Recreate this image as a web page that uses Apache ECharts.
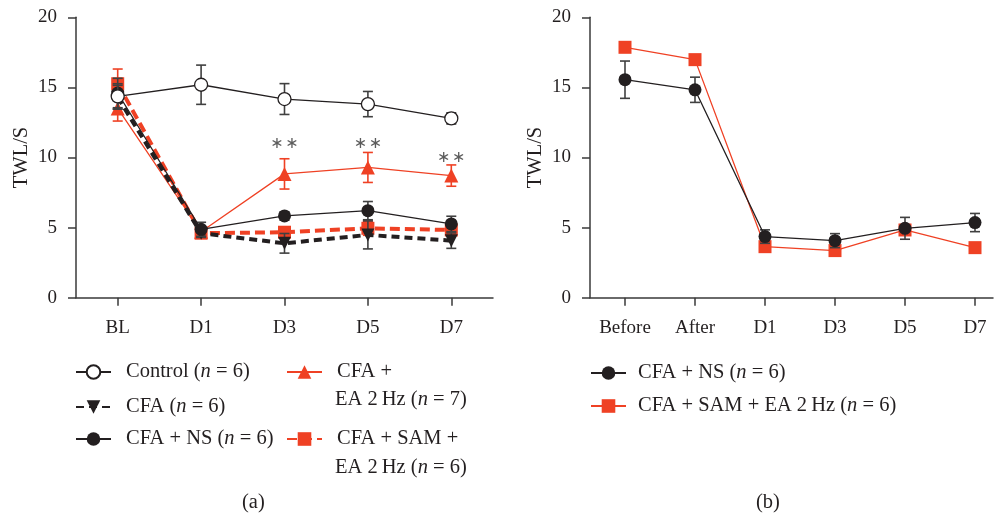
<!DOCTYPE html>
<html>
<head>
<meta charset="utf-8">
<script src="https://cdn.jsdelivr.net/npm/echarts@6/dist/echarts.min.js"></script>
<style>html,body{margin:0;padding:0;background:#fff;overflow:hidden;}#c{width:1030px;height:513px;}</style>
</head>
<body>
<div id="c"></div>
<script>
// ---- data: panel (a)
const catsA = ['BL', 'D1', 'D3', 'D5', 'D7'];
const controlMean = [14.36, 15.19, 14.17, 13.81, 12.79];
const controlSem  = [0.9, 1.4, 1.1, 0.9, 0.4];
const cfaMean     = [14.3, 4.6, 3.88, 4.48, 4.07];
const cfaSem      = [0.85, 0.3, 0.7, 1.0, 0.55];
const nsMeanA     = [14.6, 4.88, 5.83, 6.21, 5.26];
const nsSemA      = [1.05, 0.5, 0.3, 0.65, 0.55];
const eaMean      = [13.5, 4.7, 8.83, 9.29, 8.71];
const eaSem       = [0.9, 0.4, 1.08, 1.07, 0.76];
const samMeanA    = [15.26, 4.6, 4.67, 4.95, 4.83];
const samSemA     = [1.05, 0.35, 0.3, 0.5, 0.3];
const sigLabels   = ['', '', '\u2217\u200a\u2217', '\u2217\u200a\u2217', '\u2217\u200a\u2217'];
const sigY        = [null, null, 11.0, 11.0, 10.0];
// ---- data: panel (b)
const catsB    = ['Before', 'After', 'D1', 'D3', 'D5', 'D7'];
const nsMeanB  = [15.55, 14.83, 4.36, 4.07, 4.95, 5.36];
const nsSemB   = [1.33, 0.9, 0.48, 0.5, 0.78, 0.65];
const samMeanB = [17.86, 16.98, 3.64, 3.36, 4.83, 3.57];
const samSemB  = [0.3, 0.3, 0.3, 0.3, 0.3, 0.3];
const yTicks = [0, 5, 10, 15, 20];

const RED = '#ef4124', BLK = '#231f20', GREY = '#404040', AX = '#3a3a3a';
const FONT = '"Liberation Serif", "DejaVu Serif", serif';
const FS = 19, LFS = 20.5;

const chart = echarts.init(document.getElementById('c'));

function errData(means, sems) { return means.map((m, i) => [i, m, sems[i]]); }
function errRender(color) {
  return function (params, api) {
    const x = api.value(0), m = api.value(1), e = api.value(2);
    const t = api.coord([x, m + e]), b = api.coord([x, m - e]);
    const hw = 5, st = { stroke: color, lineWidth: 1.6 };
    return { type: 'group', children: [
      { type: 'line', shape: { x1: t[0], y1: t[1], x2: b[0], y2: b[1] }, style: st },
      { type: 'line', shape: { x1: t[0] - hw, y1: t[1], x2: t[0] + hw, y2: t[1] }, style: st },
      { type: 'line', shape: { x1: b[0] - hw, y1: b[1], x2: b[0] + hw, y2: b[1] }, style: st }
    ]};
  };
}
function errSeries(means, sems, color, ax, z) {
  return { type: 'custom', xAxisIndex: ax, yAxisIndex: ax, renderItem: errRender(color),
    data: errData(means, sems), encode: { x: 0, y: 1 }, z: z, silent: true };
}

const xAxisBase = {
  type: 'category', boundaryGap: true,
  axisLine: { show: true, lineStyle: { color: AX, width: 1.5 } },
  axisTick: { show: true, alignWithLabel: true, length: 8, lineStyle: { color: AX, width: 1.5 } },
  axisLabel: { color: BLK, fontFamily: FONT, fontSize: FS, margin: 21 },
  splitLine: { show: false }
};
const yAxisBase = {
  type: 'value', min: 0, max: 20, interval: 5,
  name: 'TWL/S', nameLocation: 'middle', nameGap: 44, nameRotate: 90,
  nameTextStyle: { color: BLK, fontFamily: FONT, fontSize: 20.5 },
  axisLine: { show: true, lineStyle: { color: AX, width: 1.5 } },
  axisTick: { show: true, length: 8, lineStyle: { color: AX, width: 1.5 } },
  axisLabel: { color: BLK, fontFamily: FONT, fontSize: FS, margin: 19,
    formatter: v => (yTicks.indexOf(v) >= 0 ? String(v) : '') },
  splitLine: { show: false }
};

const names = {
  ctrl: 'Control ({n|n} = 6)',
  cfa: 'CFA ({n|n} = 6)',
  ns: 'CFA + NS ({n|n} = 6)',
  ea: 'CFA +',
  sam: 'CFA + SAM +',
  samB: 'CFA + SAM + EA 2\u2009Hz ({n|n} = 6)'
};
const richN = { n: { fontStyle: 'italic', fontFamily: FONT, fontSize: LFS, color: BLK } };
function legend(name, left, top, padLeft) {
  return {
    data: [name], left: left, top: top, orient: 'vertical', padding: 0,
    itemWidth: 35, itemHeight: 17, selectedMode: false,
    formatter: n => names[n],
    textStyle: { color: BLK, fontFamily: FONT, fontSize: LFS, lineHeight: 22, padding: [0, 0, 0, padLeft], rich: richN }
  };
}

const option = {
  animation: false,
  backgroundColor: '#fff',
  grid: [
    { left: 76, top: 17.3, width: 417, height: 280.4 },
    { left: 590, top: 17.3, width: 420, height: 280.4 },
    { left: 590, top: 17.3, width: 403, height: 280.4 }
  ],
  xAxis: [
    Object.assign({}, xAxisBase, { gridIndex: 0, data: catsA }),
    Object.assign({}, xAxisBase, { gridIndex: 1, data: catsB, axisLine: { show: false } }),
    { type: 'value', gridIndex: 2, min: 0, max: 1, axisLine: { show: true, onZero: false, lineStyle: { color: AX, width: 1.5 } },
      axisTick: { show: false }, axisLabel: { show: false }, splitLine: { show: false } }
  ],
  yAxis: [
    Object.assign({}, yAxisBase, { gridIndex: 0 }),
    Object.assign({}, yAxisBase, { gridIndex: 1 }),
    { type: 'value', gridIndex: 2, show: false, min: 0, max: 1 }
  ],
  legend: [
    legend('ctrl', 75, 361, 10),
    legend('cfa', 75, 396, 10),
    legend('ns', 75, 428, 10),
    legend('ea', 286, 361, 10),
    legend('sam', 286, 428, 10),
    legend('ns', 590, 362, 7),
    legend('samB', 590, 395, 7)
  ],
  graphic: [
    { type: 'text', left: 335, top: 389, style: { text: 'EA 2\u2009Hz ({n|n} = 7)', fill: BLK, font: LFS + 'px ' + FONT, rich: richN } },
    { type: 'text', left: 335, top: 457, style: { text: 'EA 2\u2009Hz ({n|n} = 6)', fill: BLK, font: LFS + 'px ' + FONT, rich: richN } },
    { type: 'text', left: 242, top: 492, style: { text: '(a)', fill: BLK, font: LFS + 'px ' + FONT } },
    { type: 'text', left: 756, top: 492, style: { text: '(b)', fill: BLK, font: LFS + 'px ' + FONT } }
  ],
  series: [
    // panel (a)
    errSeries(samMeanA, samSemA, RED, 0, 2),
    { name: 'sam', type: 'line', xAxisIndex: 0, yAxisIndex: 0, data: samMeanA, z: 3,
      symbol: 'rect', symbolSize: 13,
      itemStyle: { color: RED }, lineStyle: { color: RED, width: 4, type: [10, 5] } },
    errSeries(eaMean, eaSem, RED, 0, 4),
    { name: 'ea', type: 'line', xAxisIndex: 0, yAxisIndex: 0, data: eaMean, z: 5,
      symbol: 'triangle', symbolSize: 14,
      itemStyle: { color: RED }, lineStyle: { color: RED, width: 1.3 } },
    errSeries(cfaMean, cfaSem, GREY, 0, 6),
    { name: 'cfa', type: 'line', xAxisIndex: 0, yAxisIndex: 0, data: cfaMean, z: 7,
      symbol: 'triangle', symbolRotate: 180, symbolSize: 13,
      itemStyle: { color: BLK }, lineStyle: { color: BLK, width: 4, type: [8, 5] } },
    errSeries(nsMeanA, nsSemA, GREY, 0, 8),
    { name: 'ns', type: 'line', xAxisIndex: 0, yAxisIndex: 0, data: nsMeanA, z: 9,
      symbol: 'circle', symbolSize: 13,
      itemStyle: { color: BLK }, lineStyle: { color: BLK, width: 1.3 } },
    errSeries(controlMean, controlSem, GREY, 0, 10),
    { name: 'ctrl', type: 'line', xAxisIndex: 0, yAxisIndex: 0, data: controlMean, z: 11,
      symbol: 'circle', symbolSize: 13,
      itemStyle: { color: '#fff', borderColor: BLK, borderWidth: 1.3 }, lineStyle: { color: BLK, width: 1.3 } },
    { type: 'scatter', xAxisIndex: 0, yAxisIndex: 0, symbolSize: 1, z: 12, silent: true,
      itemStyle: { color: 'rgba(0,0,0,0)' },
      data: sigY.map((v, i) => (v == null ? null : [i, v])),
      label: { show: true, position: 'inside', formatter: p => sigLabels[p.data[0]],
        color: '#333', fontFamily: '"DejaVu Sans", sans-serif', fontSize: 16 } },
    // panel (b)
    errSeries(samMeanB, samSemB, RED, 1, 2),
    { name: 'samB', type: 'line', xAxisIndex: 1, yAxisIndex: 1, data: samMeanB, z: 3,
      symbol: 'rect', symbolSize: 13,
      itemStyle: { color: RED }, lineStyle: { color: RED, width: 1.3 } },
    errSeries(nsMeanB, nsSemB, GREY, 1, 4),
    { name: 'ns', type: 'line', xAxisIndex: 1, yAxisIndex: 1, data: nsMeanB, z: 5,
      symbol: 'circle', symbolSize: 13,
      itemStyle: { color: BLK }, lineStyle: { color: BLK, width: 1.3 } }
  ]
};
chart.setOption(option);
</script>
</body>
</html>
